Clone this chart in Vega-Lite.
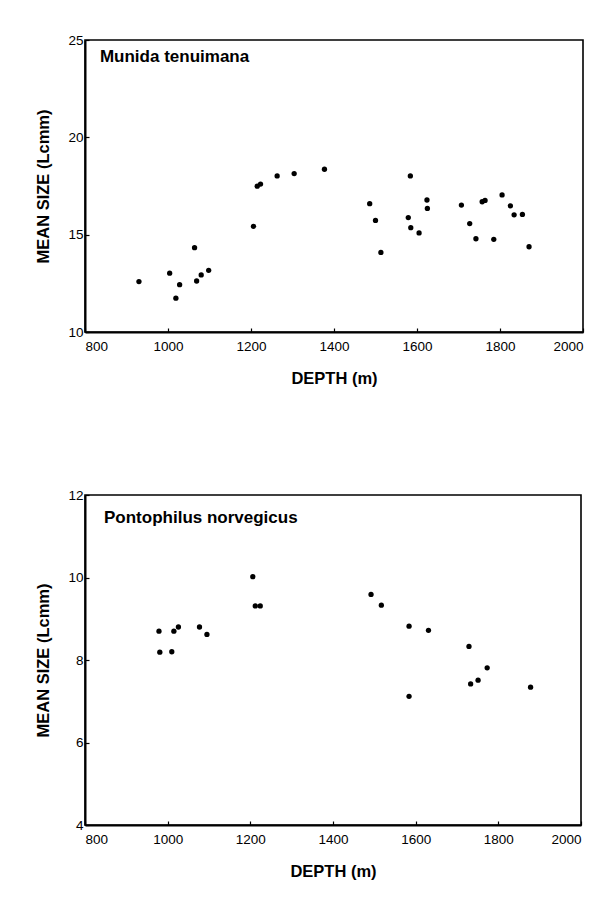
{
  "$schema": "https://vega.github.io/schema/vega-lite/v6.json",
  "padding": {"left": 35, "top": 32, "right": 8, "bottom": 0},
  "background": "white",
  "config": {
    "font": "Liberation Sans",
    "view": {"stroke": "black", "strokeWidth": 1.6},
    "axis": {
      "grid": false,
      "domainColor": "black",
      "domainWidth": 2,
      "tickColor": "black",
      "tickWidth": 1.2,
      "tickSize": -4,
      "labelColor": "black",
      "labelFontSize": 13.5,
      "labelFont": "Liberation Sans",
      "titleColor": "black",
      "titleFont": "Liberation Sans",
      "titleFontSize": 16.5,
      "titleFontWeight": "bold",
      "format": "d"
    }
  },
  "datasets": {
    "munida": [
      {"depth": 930, "size": 12.59}, {"depth": 1004, "size": 13.02}, {"depth": 1019, "size": 11.74},
      {"depth": 1028, "size": 12.43}, {"depth": 1064, "size": 14.33}, {"depth": 1069, "size": 12.62},
      {"depth": 1080, "size": 12.93}, {"depth": 1098, "size": 13.17}, {"depth": 1206, "size": 15.43},
      {"depth": 1215, "size": 17.49}, {"depth": 1223, "size": 17.6}, {"depth": 1263, "size": 18.02},
      {"depth": 1304, "size": 18.14}, {"depth": 1377, "size": 18.36}, {"depth": 1486, "size": 16.59},
      {"depth": 1500, "size": 15.73}, {"depth": 1513, "size": 14.09}, {"depth": 1579, "size": 15.88},
      {"depth": 1584, "size": 18.02}, {"depth": 1585, "size": 15.36}, {"depth": 1605, "size": 15.09},
      {"depth": 1624, "size": 16.78}, {"depth": 1625, "size": 16.35}, {"depth": 1707, "size": 16.52},
      {"depth": 1727, "size": 15.57}, {"depth": 1742, "size": 14.79}, {"depth": 1757, "size": 16.69},
      {"depth": 1764, "size": 16.76}, {"depth": 1785, "size": 14.76}, {"depth": 1805, "size": 17.04},
      {"depth": 1825, "size": 16.48}, {"depth": 1834, "size": 16.02}, {"depth": 1854, "size": 16.04},
      {"depth": 1870, "size": 14.38}
    ],
    "ponto": [
      {"depth": 979, "size": 8.7}, {"depth": 981, "size": 8.19}, {"depth": 1010, "size": 8.2},
      {"depth": 1015, "size": 8.7}, {"depth": 1026, "size": 8.8}, {"depth": 1077, "size": 8.8},
      {"depth": 1095, "size": 8.62}, {"depth": 1206, "size": 10.02}, {"depth": 1212, "size": 9.31},
      {"depth": 1224, "size": 9.31}, {"depth": 1492, "size": 9.59}, {"depth": 1517, "size": 9.33},
      {"depth": 1584, "size": 8.82}, {"depth": 1584, "size": 7.12}, {"depth": 1631, "size": 8.72},
      {"depth": 1729, "size": 8.33}, {"depth": 1733, "size": 7.42}, {"depth": 1751, "size": 7.51},
      {"depth": 1773, "size": 7.81}, {"depth": 1878, "size": 7.34}
    ]
  },
  "spacing": 99,
  "vconcat": [
    {
      "width": 498,
      "height": 292,
      "layer": [
        {
          "data": {"name": "munida"},
          "mark": {"type": "circle", "color": "black", "opacity": 1, "size": 28},
          "encoding": {
            "x": {"field": "depth", "type": "quantitative", "scale": {"domain": [800, 2000], "nice": false},
                  "axis": {"title": "DEPTH (m)", "values": [800, 1000, 1200, 1400, 1600, 1800, 2000], "labelPadding": 11, "titlePadding": 18, "labelFlush": true}},
            "y": {"field": "size", "type": "quantitative", "scale": {"domain": [10, 25], "nice": false, "zero": false},
                  "axis": {"title": "MEAN SIZE (Lcmm)", "values": [10, 15, 20, 25], "labelPadding": 6, "titlePadding": 16}}
          }
        },
        {
          "data": {"values": [{"label": "Munida tenuimana"}]},
          "mark": {"type": "text", "align": "left", "baseline": "middle", "fontWeight": "bold", "fontSize": 17, "color": "black", "font": "Liberation Sans"},
          "encoding": {
            "x": {"datum": 836, "type": "quantitative"},
            "y": {"datum": 24.15, "type": "quantitative"},
            "text": {"field": "label"}
          }
        }
      ]
    },
    {
      "width": 496,
      "height": 330,
      "layer": [
        {
          "data": {"name": "ponto"},
          "mark": {"type": "circle", "color": "black", "opacity": 1, "size": 28},
          "encoding": {
            "x": {"field": "depth", "type": "quantitative", "scale": {"domain": [800, 2000], "nice": false},
                  "axis": {"title": "DEPTH (m)", "values": [800, 1000, 1200, 1400, 1600, 1800, 2000], "labelPadding": 11, "titlePadding": 18, "labelFlush": true}},
            "y": {"field": "size", "type": "quantitative", "scale": {"domain": [4, 12], "nice": false, "zero": false},
                  "axis": {"title": "MEAN SIZE (Lcmm)", "values": [4, 6, 8, 10, 12], "labelPadding": 6, "titlePadding": 16}}
          }
        },
        {
          "data": {"values": [{"label": "Pontophilus norvegicus"}]},
          "mark": {"type": "text", "align": "left", "baseline": "middle", "fontWeight": "bold", "fontSize": 17, "color": "black", "font": "Liberation Sans"},
          "encoding": {
            "x": {"datum": 846, "type": "quantitative"},
            "y": {"datum": 11.45, "type": "quantitative"},
            "text": {"field": "label"}
          }
        }
      ]
    }
  ]
}
